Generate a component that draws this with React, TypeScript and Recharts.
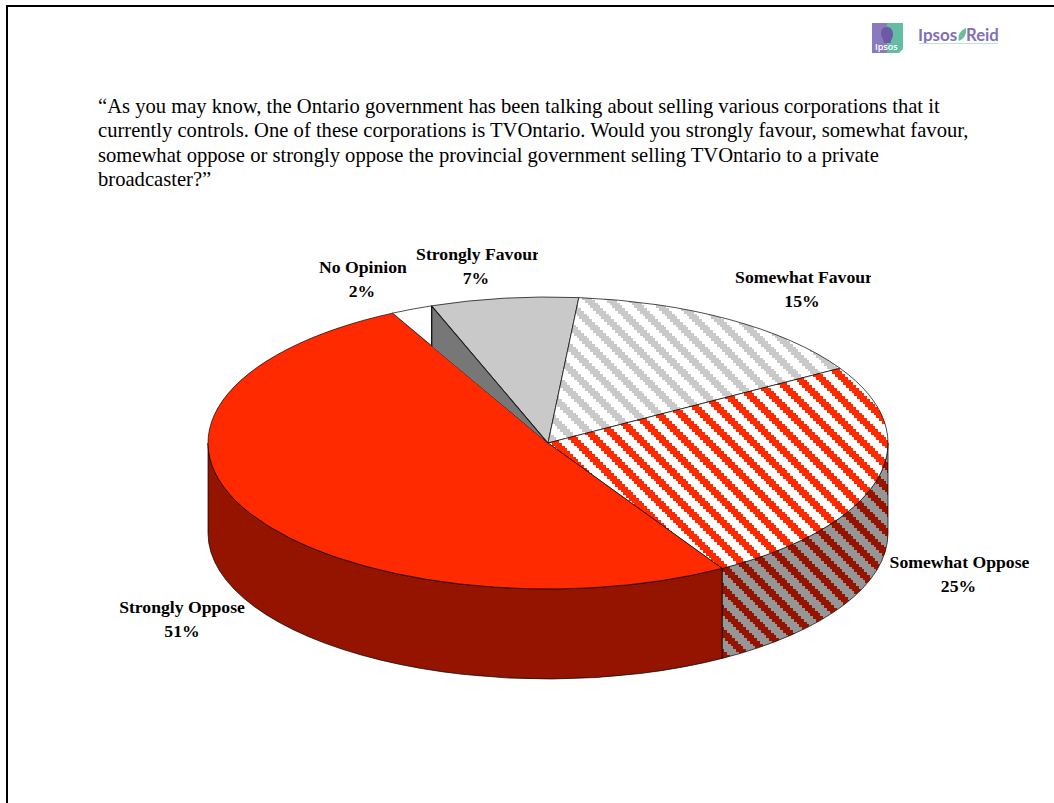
import React from "react";
import { PieChart, Pie } from "recharts";

// Survey responses, in clockwise order from the slice just left of twelve o'clock.
const categories = ["Strongly Favour", "Somewhat Favour", "Somewhat Oppose", "Strongly Oppose", "No Opinion"];
const shares = [7, 15, 25, 51, 2];
const topFills = ["#c9c9c9", "url(#stripeGrey)", "url(#stripeRed)", "#ff2a00", "#ffffff"];
const wallFills = ["#777777", "#777777", "url(#stripeWall)", "#941400", "#777777"];

const questionLines = [
  "“As you may know, the Ontario government has been talking about selling various corporations that it",
  "currently controls. One of these corporations is TVOntario. Would you strongly favour, somewhat favour,",
  "somewhat oppose or strongly oppose the provincial government selling TVOntario to a private",
  "broadcaster?”",
];

const pieRows = categories.map((name, i) => ({ name, value: shares[i] }));

const WIDTH = 1054;
const HEIGHT = 803;
const CX = 548;
const CY = 443;
const RX = 340;
const RY = 146;
const DEPTH = 90;

// Label anchors relative to the pie centre; clipRight trims the wider line where its box ends.
const labelPlacement: Record<string, { dx: number; dy: number; clipRight?: number; shareDx?: number }> = {
  "Strongly Favour": { dx: -70, dy: -183, clipRight: 538, shareDx: -2 },
  "Somewhat Favour": { dx: 256, dy: -160, clipRight: 871, shareDx: -2 },
  "Somewhat Oppose": { dx: 411.5, dy: 125, shareDx: -1 },
  "Strongly Oppose": { dx: -366, dy: 170 },
  "No Opinion": { dx: -185, dy: -170, shareDx: -1 },
};

const rim = (deg: number, drop = 0) => {
  const a = (deg * Math.PI) / 180;
  return { x: CX + RX * Math.cos(a), y: CY - RY * Math.sin(a) + drop };
};

const sectorPath = (start: number, end: number) => {
  const p = rim(start);
  const q = rim(end);
  const large = Math.abs(start - end) > 180 ? 1 : 0;
  return `M${CX},${CY}L${p.x},${p.y}A${RX},${RY} 0 ${large} 1 ${q.x},${q.y}Z`;
};

// Outer wall of a slice: only the part along the front half of the rim is visible.
const WallShape = (props: any) => {
  const cw0 = 90 - props.startAngle;
  const cw1 = 90 - props.endAngle;
  const lo = Math.max(cw0, 90);
  const hi = Math.min(cw1, 270);
  if (hi <= lo) return <g />;
  const a = rim(90 - lo);
  const b = rim(90 - hi);
  const c = rim(90 - hi, DEPTH);
  const d = rim(90 - lo, DEPTH);
  const large = hi - lo > 180 ? 1 : 0;
  const i = categories.indexOf(props.name ?? props.payload?.name);
  return (
    <path
      d={`M${a.x},${a.y}A${RX},${RY} 0 ${large} 1 ${b.x},${b.y}L${c.x},${c.y}A${RX},${RY} 0 ${large} 0 ${d.x},${d.y}Z`}
      fill={wallFills[i]}
      stroke="#000"
      strokeWidth={0.7}
    />
  );
};

// Top face of a slice. The smallest slice also shows the cut face of its neighbour.
const TopShape = (props: any) => {
  const name = props.name ?? props.payload?.name;
  const i = categories.indexOf(name);
  const d = sectorPath(props.startAngle, props.endAngle);
  if (name !== "No Opinion") {
    return <path d={d} fill={topFills[i]} stroke="#000" strokeWidth={0.7} />;
  }
  const edge = rim(props.endAngle);
  const edgeLow = rim(props.endAngle, DEPTH);
  return (
    <g>
      <clipPath id="smallSliceClip">
        <path d={d} />
      </clipPath>
      <path d={d} fill={topFills[i]} stroke="#000" strokeWidth={0.7} />
      <path
        d={`M${CX},${CY}L${edge.x},${edge.y}L${edgeLow.x},${edgeLow.y}L${CX},${CY + DEPTH}Z`}
        fill={wallFills[i]}
        stroke="#000"
        strokeWidth={1.2}
        clipPath="url(#smallSliceClip)"
      />
    </g>
  );
};

const renderLabel = (props: any) => {
  const name = props.name ?? props.payload?.name;
  const place = labelPlacement[name];
  const x = CX + place.dx;
  const y = CY + place.dy;
  const clipId = `clip-${categories.indexOf(name)}`;
  return (
    <g key={name}>
      {place.clipRight ? (
        <clipPath id={clipId}>
          <rect x={x - 120} y={y - 20} width={place.clipRight - x + 120} height={60} />
        </clipPath>
      ) : null}
      <text
        x={x}
        y={y}
        textAnchor="middle"
        clipPath={place.clipRight ? `url(#${clipId})` : undefined}
        style={{ fontFamily: "'Liberation Serif'", fontWeight: 700, fontSize: 17.67, fill: "#000" }}
      >
        <tspan x={x} dy={0}>{name}</tspan>
        <tspan x={x + (place.shareDx ?? 0)} dy={24}>{`${props.value}%`}</tspan>
      </text>
    </g>
  );
};

// Diagonal hatch tile built from stair-stepped rows.
const hatchSteps = [0, 3, 6, 8, 11, 14, 17, 19, 22];
const HATCH_TILE = 22;
const Hatch = ({ id, back, fore }: { id: string; back: string; fore: string }) => (
  <pattern id={id} patternUnits="userSpaceOnUse" width={HATCH_TILE} height={HATCH_TILE} x={21} y={0}>
    <rect width={HATCH_TILE} height={HATCH_TILE} fill={back} shapeRendering="crispEdges" />
    {hatchSteps.slice(0, -1).map((s, r) => (
      <React.Fragment key={r}>
        <rect x={s} y={s} width={10} height={hatchSteps[r + 1] - s} fill={fore} shapeRendering="crispEdges" />
        <rect x={s - HATCH_TILE} y={s} width={10} height={hatchSteps[r + 1] - s} fill={fore} shapeRendering="crispEdges" />
      </React.Fragment>
    ))}
  </pattern>
);

const Logo = () => (
  <g>
    <path d="M872,23H887V53H872Z" fill="#8b79bd" />
    <path d="M887,23H903V49L899,53H887Z" fill="#62bda3" />
    <path d="M887,27C881,27 880,33 882,37C883,40 884,41 884,43H891C890,40 893,39 893,35C893,30 891,27 887,27Z" fill="#6d5aa6" />
    <text x={875} y={50} style={{ fontFamily: "'Open Sans'", fontWeight: 600, fontSize: 9, fill: "#fff" }}>Ipsos</text>
    <text x={918} y={41} style={{ fontFamily: "Lato", fontWeight: 700, fontSize: 17, fill: "#7f70b8" }}>Ipsos</text>
    <path d="M959,41C957,35 961,30 966,28C967,34 964,39 959,41Z" fill="#6dbf9c" />
    <text x={966} y={41} style={{ fontFamily: "Lato", fontWeight: 700, fontSize: 16.7, fill: "#7f70b8" }}>Reid</text>
    <rect x={919} y={43} width={79} height={1} fill="#bfe3d6" />
  </g>
);

export default function App() {
  return (
    <div style={{ position: "absolute", left: 0, top: 0, width: WIDTH, height: HEIGHT, overflow: "hidden", background: "#fff" }}>
      <svg width={WIDTH} height={HEIGHT} style={{ position: "absolute", left: 0, top: 0 }}>
        <defs>
          <Hatch id="stripeGrey" back="#ffffff" fore="#c9c9c9" />
          <Hatch id="stripeRed" back="#ffffff" fore="#ff2a00" />
          <Hatch id="stripeWall" back="#969696" fore="#941400" />
        </defs>
        <rect x={6} y={5} width={WIDTH - 6} height={2} fill="#000" />
        <rect x={6} y={5} width={2} height={HEIGHT - 5} fill="#000" />
        <Logo />
        <text style={{ fontFamily: "'Liberation Serif'", fontSize: 20.6, fill: "#000" }}>
          {questionLines.map((line, i) => (
            <tspan key={i} x={98} y={113 + i * 24.4}>{line}</tspan>
          ))}
        </text>
      </svg>
      <div style={{ position: "absolute", left: 0, top: 0 }}>
        <PieChart width={WIDTH} height={HEIGHT} margin={{ top: 0, right: 0, bottom: 0, left: 0 }}>
          <Pie
            data={pieRows}
            dataKey="value"
            nameKey="name"
            cx={CX}
            cy={CY}
            outerRadius={RX}
            startAngle={110}
            endAngle={-250}
            isAnimationActive={false}
            stroke="none"
            shape={WallShape}
            legendType="none"
          />
          <Pie
            data={pieRows}
            dataKey="value"
            nameKey="name"
            cx={CX}
            cy={CY}
            outerRadius={RX}
            startAngle={110}
            endAngle={-250}
            isAnimationActive={false}
            shape={TopShape}
            label={renderLabel}
            labelLine={false}
            legendType="none"
          />
        </PieChart>
      </div>
    </div>
  );
}
